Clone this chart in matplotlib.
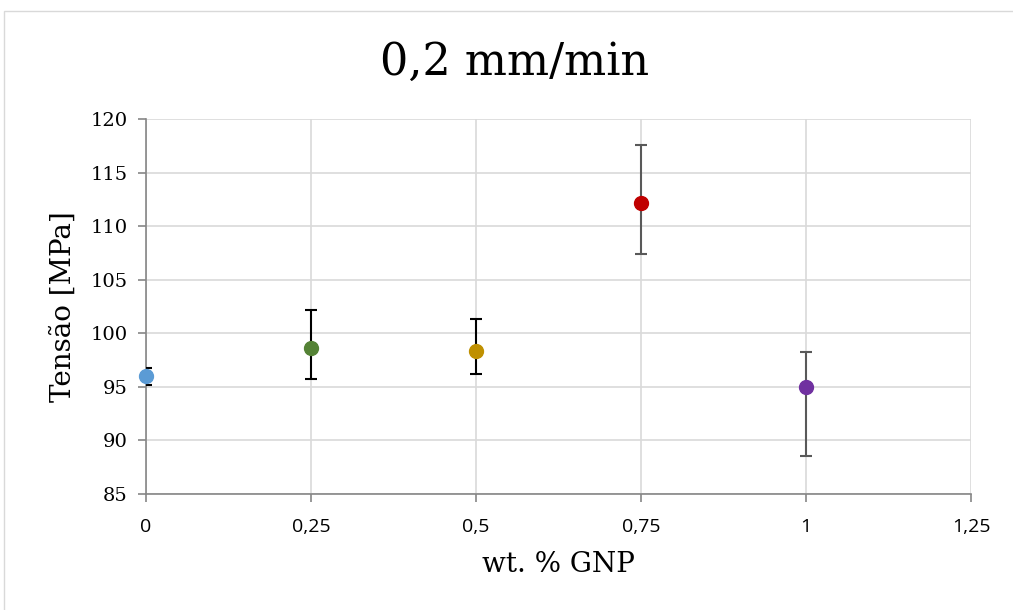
import matplotlib
matplotlib.use("Agg")
import matplotlib.pyplot as plt
from matplotlib.patches import Rectangle
from matplotlib.ticker import FuncFormatter

# GNP loading vs. tensile stress at 0,2 mm/min
gnp_wt = [0.0, 0.25, 0.5, 0.75, 1.0]
tensao = [96.0, 98.63, 98.32, 112.13, 95.01]
err_low = [0.8, 2.87, 2.15, 4.76, 6.44]
err_high = [0.8, 3.52, 2.99, 5.47, 3.24]
point_colors = ["#5B9BD5", "#548235", "#BF9000", "#C00000", "#7030A0"]
bar_colors = ["#000000", "#000000", "#000000", "#595959", "#595959"]

x_ticks = [0, 0.25, 0.5, 0.75, 1.0, 1.25]
y_ticks = [85, 90, 95, 100, 105, 110, 115, 120]

SERIF = ["DejaVu Serif"]
SANS = ["Open Sans", "DejaVu Sans"]

fig = plt.figure(figsize=(10.13, 6.1), dpi=100)
W, H = 1013, 610
ax = fig.add_axes([146 / W, 1 - 494 / H, (971 - 146) / W, (494 - 119) / H])

# chart-area border
fig.patches.append(Rectangle((4 / W, -0.1), 1.2, 1 - 11 / H + 0.1,
                             transform=fig.transFigure, fill=False,
                             edgecolor="#D9D9D9", linewidth=1.0))

for xi, yi, lo, hi, pc, bc in zip(gnp_wt, tensao, err_low, err_high,
                                  point_colors, bar_colors):
    ax.errorbar([xi], [yi], yerr=[[lo], [hi]], fmt="none", ecolor=bc,
                elinewidth=1.5, capsize=4.5, capthick=1.5, zorder=3)
    ax.plot([xi], [yi], "o", color=pc, markersize=10, zorder=4,
            clip_on=False)

ax.set_xlim(0, 1.25)
ax.set_ylim(85, 120)
ax.set_xticks(x_ticks)
ax.set_yticks(y_ticks)
ax.xaxis.set_major_formatter(FuncFormatter(lambda v, p: f"{v:g}".replace(".", ",")))
ax.grid(True, color="#D9D9D9", linewidth=1.2)
ax.set_axisbelow(True)
for s in ("top", "right"):
    ax.spines[s].set_visible(False)
for s in ("left", "bottom"):
    ax.spines[s].set_color("#868686")
    ax.spines[s].set_linewidth(1.2)
ax.tick_params(axis="both", direction="out", length=6, color="#868686",
               width=1.2)
ax.tick_params(axis="x", pad=11)
ax.tick_params(axis="y", pad=7)
for lbl in ax.get_xticklabels():
    lbl.set_fontfamily(SANS)
    lbl.set_fontsize(14)
for lbl in ax.get_yticklabels():
    lbl.set_fontfamily(SERIF)
    lbl.set_fontsize(14)

fig.text(515 / W, 1 - 62 / H, "0,2 mm/min", family=SERIF, fontsize=32,
         ha="center", va="center")
fig.text(63 / W, 1 - 307 / H, "Tensão [MPa]", family=SERIF, fontsize=20,
         ha="center", va="center", rotation=90)
fig.text(558 / W, 1 - 565 / H, "wt. % GNP", family=SERIF, fontsize=20,
         ha="center", va="center")

fig.savefig("out.png", dpi=100)
